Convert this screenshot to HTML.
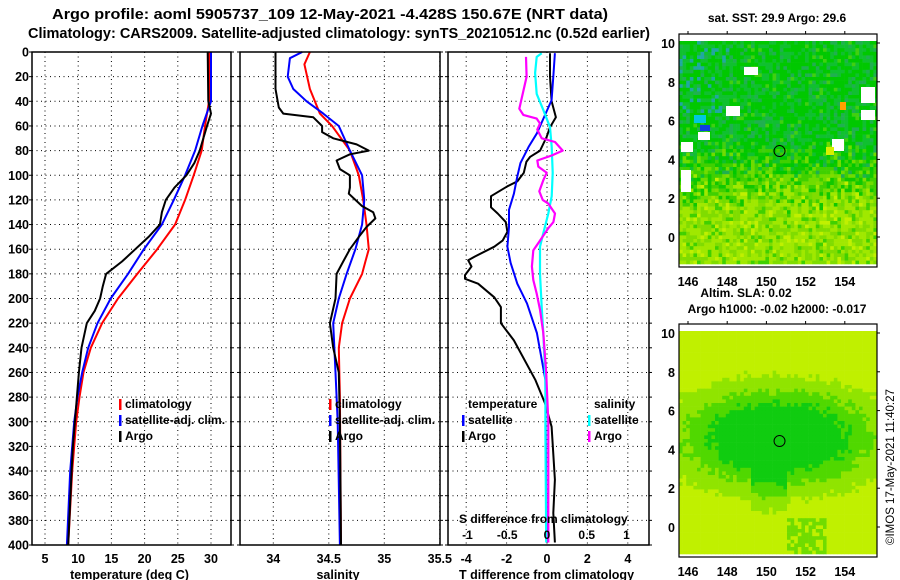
<!DOCTYPE html>
<html><head><meta charset="utf-8"><style>
html,body{margin:0;padding:0;background:#fff;}
svg{display:block;font-family:"Liberation Sans",sans-serif;font-weight:bold;}
</style></head><body>
<svg id="s" width="900" height="580" viewBox="0 0 900 580" xmlns="http://www.w3.org/2000/svg">
<text x="52" y="19" font-size="15" textLength="556" lengthAdjust="spacingAndGlyphs">Argo profile: aoml 5905737_109 12-May-2021 -4.428S 150.67E (NRT data)</text>
<text x="28" y="38" font-size="14.5" textLength="622" lengthAdjust="spacingAndGlyphs">Climatology: CARS2009. Satellite-adjusted climatology: synTS_20210512.nc (0.52d earlier)</text>
<text x="777" y="22" text-anchor="middle" font-size="12">sat. SST: 29.9 Argo: 29.6</text>
<text x="746" y="297" text-anchor="middle" font-size="12">Altim. SLA: 0.02</text>
<text x="777" y="313" text-anchor="middle" font-size="12">Argo h1000: -0.02 h2000: -0.017</text>
<text transform="translate(894,545) rotate(-90)" font-size="11.5" font-weight="normal">©IMOS 17-May-2021 11:40:27</text>
<g id="maps"></g>
<g id="panels"></g>
</svg>
<script>
// ---- temperature panel data ----
const climT_depth = [0,40,60,80,100,120,140,160,180,200,220,240,260,280,300,340,400];
const climT_val   = [29.7,29.7,29.1,28.6,27.4,26.1,24.6,21.9,18.9,16.0,13.6,11.9,10.8,10.2,9.7,9.1,8.5];
const satT_depth = [0,40,60,80,100,120,140,160,180,200,220,240,260,280,300,340,400];
const satT_val   = [30.0,30.0,28.7,27.6,26.1,24.4,22.6,19.9,17.5,14.9,12.9,11.5,10.6,9.9,9.4,8.8,8.3];
const argoT_depth = [0,40,50,60,80,90,100,110,120,130,140,150,160,170,180,190,200,210,220,240,260,280,300,320,340,400];
const argoT_val   = [29.5,29.6,30.0,29.4,28.3,27.5,26.3,24.5,23.2,22.6,22.3,20.6,18.6,16.6,14.2,13.7,13.3,12.5,11.3,10.5,10.1,9.8,9.5,9.2,9.0,8.5];
// ---- salinity panel data ----
const climS_depth = [0,10,30,50,60,80,100,120,140,160,170,180,200,220,240,280,400];
const climS_val   = [34.33,34.28,34.33,34.42,34.53,34.69,34.77,34.81,34.84,34.86,34.83,34.80,34.69,34.62,34.59,34.60,34.61];
const satS_depth = [0,5,20,30,40,50,60,80,100,120,140,160,180,200,220,260,300,400];
const satS_val   = [34.26,34.15,34.13,34.18,34.30,34.45,34.59,34.69,34.80,34.82,34.80,34.74,34.66,34.59,34.54,34.56,34.58,34.60];
const argoS_depth = [0,30,45,50,53,60,65,70,75,80,83,88,95,100,110,115,120,125,130,135,142,150,160,170,180,200,220,240,260,300,400];
const argoS_val   = [34.02,34.02,34.05,34.09,34.36,34.44,34.44,34.54,34.75,34.86,34.69,34.57,34.60,34.69,34.69,34.68,34.74,34.80,34.90,34.92,34.84,34.77,34.69,34.63,34.57,34.56,34.51,34.54,34.59,34.60,34.61];
// ---- difference panel data ----
const dTargo_depth = [1,20,40,53,61,69,80,85,89,98,105,109,117,126,131,138,146,153,158,166,169,174,181,184,188,199,207,220,234,266,285,304,347,374,398];
const dTargo_val   = [0.15,0.15,0.23,0.44,0.15,-0.02,-0.34,-0.83,-1.02,-1.15,-1.47,-1.96,-2.77,-2.77,-2.44,-2.04,-1.96,-2.2,-2.61,-3.58,-3.9,-3.74,-4.06,-4.06,-3.41,-2.61,-2.28,-2.28,-1.64,-0.58,-0.1,0.23,0.39,0.31,0.39];
const dTsat_depth = [1,20,39,54,66,77,90,101,115,128,142,158,171,188,204,228,266,339,398];
const dTsat_val   = [0.39,0.31,0.23,-0.18,-0.5,-0.91,-1.31,-1.47,-1.64,-1.88,-1.88,-1.96,-1.8,-1.47,-0.99,-0.5,-0.08,-0.05,-0.02];
const dSargo_depth = [4,20,34,46,51,54,58,63,70,73,80,84,88,93,98,104,113,120,123,131,138,143,153,161,174,185,196,209,228,260,300,398];
const dSargo_val   = [-0.264,-0.256,-0.306,-0.348,-0.298,-0.13,-0.088,-0.122,-0.067,0.10,0.197,0.059,-0.122,-0.109,-0.004,-0.047,-0.097,-0.054,0.016,0.10,0.08,0.016,-0.088,-0.172,-0.19,-0.172,-0.13,-0.088,-0.047,-0.01,0.016,0.016];
const dSsat_depth = [1,4,17,34,47,61,77,98,117,131,147,158,180,207,228,266,305,398];
const dSsat_val   = [-0.067,-0.13,-0.15,-0.13,-0.047,0.038,0.059,0.072,0.059,0.016,-0.047,-0.088,-0.088,-0.067,-0.047,-0.02,-0.02,-0.01];
// ---- tick labels ----
const depthTicks = [0,20,40,60,80,100,120,140,160,180,200,220,240,260,280,300,320,340,360,380,400];
const tempTicks = [5,10,15,20,25,30];
const salTicks = [34,34.5,35,35.5];
const tdiffTicks = [-4,-2,0,2,4];
const sdiffTicks = [-1,-0.5,0,0.5,1];
const sdiffLabels = ['-1','-0.5','0','0.5','1'];
const latTicks = [0,2,4,6,8,10];
const lonTicks = [146,148,150,152,154];

const NS='http://www.w3.org/2000/svg';
const P=document.getElementById('panels');
function mk(tag,attrs,parent){const e=document.createElementNS(NS,tag);for(const k in attrs)e.setAttribute(k,attrs[k]);(parent||P).appendChild(e);return e;}
const Y0=52,Y1=545;
const yD=d=>Y0+(d/400)*(Y1-Y0);
function panel(name,x0,x1,xs,ticks,labels,xlabel){
  const g=mk('g',{});
  
  
  ticks.forEach(t=>{const x=xs(t);
    const l=mk('line',{x1:x,x2:x,y1:Y0,y2:Y1,stroke:'#000','stroke-width':1,'stroke-dasharray':'1 3.5'},g);
    });
  depthTicks.forEach(d=>{const y=yD(d);
    const l=mk('line',{x1:x0,x2:x1,y1:y,y2:y,stroke:'#000','stroke-width':1,'stroke-dasharray':'1 3.5'},g);
    
    const tk=mk('line',{x1:x0-3,x2:x0,y1:y,y2:y,stroke:'#000'},g);
    
    const tk2=mk('line',{x1:x1,x2:x1+3,y1:y,y2:y,stroke:'#000'},g);
    });
  ticks.forEach((t,i)=>{const x=xs(t);
    const tx=mk('text',{x:x,y:563,'text-anchor':'middle','font-size':12.5},g);tx.textContent=labels[i];
    });
  const xl=mk('text',{x:(x0+x1)/2-2,y:579,'text-anchor':'middle','font-size':12.5},g);xl.textContent=xlabel;
  
  return g;
}
function frame(g,x0,x1){const r=mk('rect',{x:x0,y:Y0,width:x1-x0,height:Y1-Y0,fill:'none',stroke:'#000','stroke-width':1.5},g);
  }
function series(g,name,ds,vs,xs,color,w){
  const pts=ds.map((d,i)=>xs(vs[i]).toFixed(1)+','+yD(d).toFixed(1)).join(' ');
  const p=mk('polyline',{points:pts,fill:'none',stroke:color,'stroke-width':w,'stroke-linejoin':'round'},g);
  
}
function legend(g,x,y,color,label,name){
  if(color){const m=mk('rect',{x:x-6,y:y-9,width:2.5,height:11,fill:color},g);}
  const t=mk('text',{x:x,y:y,'font-size':12},g);t.textContent=label;
  
}
depthTicks.forEach(d=>{const t=mk('text',{x:29,y:yD(d)+4.5,'text-anchor':'end','font-size':12.5});t.textContent=d;
  });

const xT=t=>45+(t-5)*6.64;
const g1=panel('temperature-panel',32,231,xT,tempTicks,tempTicks.map(String),'temperature (deg C)');
series(g1,'temp-climatology-line',climT_depth,climT_val,xT,'#ff0000',2);
series(g1,'temp-satellite-line',satT_depth,satT_val,xT,'#0000ff',2);
series(g1,'temp-argo-line',argoT_depth,argoT_val,xT,'#000',2);
frame(g1,32,231);
legend(g1,125,408,'#ff0000','climatology','legend-climatology');
legend(g1,125,424,'#0000ff','satellite-adj. clim.','legend-satellite');
legend(g1,125,440,'#000','Argo','legend-argo');

const xS=s=>273.3+(s-34)*111;
const g2=panel('salinity-panel',240,440,xS,salTicks,salTicks.map(String),'salinity');
series(g2,'sal-climatology-line',climS_depth,climS_val,xS,'#ff0000',2);
series(g2,'sal-satellite-line',satS_depth,satS_val,xS,'#0000ff',2);
series(g2,'sal-argo-line',argoS_depth,argoS_val,xS,'#000',2);
frame(g2,240,440);
legend(g2,335,408,'#ff0000','climatology','legend-climatology');
legend(g2,335,424,'#0000ff','satellite-adj. clim.','legend-satellite');
legend(g2,335,440,'#000','Argo','legend-argo');

const xDT=t=>547+t*20.2;
const xDS=s=>547+s*79.5;
const g3=panel('difference-panel',448,649,xDT,tdiffTicks,tdiffTicks.map(String),'T difference from climatology');
series(g3,'tdiff-argo-line',dTargo_depth,dTargo_val,xDT,'#000',2);
series(g3,'tdiff-satellite-line',dTsat_depth,dTsat_val,xDT,'#0000ff',2);
series(g3,'sdiff-satellite-line',dSsat_depth,dSsat_val,xDS,'#00ffff',2.2);
series(g3,'sdiff-argo-line',dSargo_depth,dSargo_val,xDS,'#ff00ff',2.2);
frame(g3,448,649);
legend(g3,468,408,null,'temperature','legend-temperature-header');
legend(g3,468,424,'#0000ff','satellite','legend-t-satellite');
legend(g3,468,440,'#000','Argo','legend-t-argo');
legend(g3,594,408,null,'salinity','legend-salinity-header');
legend(g3,594,424,'#00ffff','satellite','legend-s-satellite');
legend(g3,594,440,'#ff00ff','Argo','legend-s-argo');
const st=mk('text',{x:459,y:523,'font-size':12},g3);st.textContent='S difference from climatology';

sdiffTicks.forEach((s,i)=>{const t=mk('text',{x:xDS(s),y:539,'text-anchor':'middle','font-size':12},g3);t.textContent=sdiffLabels[i];
  });

// ---- maps (texture) ----
const M=document.getElementById('maps');
function hash(a,b){const v=Math.sin(a*127.1+b*311.7)*43758.5453;return v-Math.floor(v);}
function drawMap(name,top,lat10y,sst){
  const g=mk('g',{},M);
  const x0=679,x1=877,y0=top+7,y1=top+230;
  const lonX=l=>688+(l-146)*19.6, latY=l=>lat10y+(10-l)*19.4;
  const cs=3.6;
  let i=0;
  for(let y=y0;y<y1;y+=cs){i++;let j=0;for(let x=x0;x<x1;x+=cs){j++;
    const lat=10-(y-lat10y)/19.4, lon=146+(x-688)/19.6;
    const n=hash(i,j+(sst?0:77)), n2=hash(j*3+1,i*7+2);
    let c;
    if(sst){
      const yl=(4.3-lat)/3.5+(n2-0.5)*0.6; // yellow fraction
      if(yl<0.1){c=n<0.5?'#00c800':(n<0.8?'#10c030':(n<0.93?'#20b050':'#40d010'));
        if(lat>6.5&&lon<148&&n>0.85)c='#20a8a0';}
      else if(yl<0.55){c=n<0.4?'#40d000':(n<0.75?'#70dc00':'#10c800');}
      else {c=n<0.45?'#a0e800':(n<0.8?'#80dc00':(n<0.9?'#c0f000':'#40d000'));}
    } else {
      const dx=(lon-150.5)/3.6, dy=(lat-4.7)/1.8;
      let r=Math.sqrt(dx*dx+dy*dy)+(n2-0.5)*0.25;
      if(lat<4&&Math.abs(lon-150)<0.9)r-=0.35;
      c=r<1?'#10cc10':(r<1.35?'#50d800':(r<1.8?'#90e400':'#c0f000'));
      if(lat<0.5&&lat>-1.3&&lon>151&&lon<153&&n>0.3)c='#70dc00';
    }
    const w=Math.min(cs,x1-x),h=Math.min(cs,y1-y);
    mk('rect',{x:x.toFixed(1),y:y.toFixed(1),width:w+0.3,height:h+0.3,fill:c},g);
  }}
  if(sst){
    [[681,142,12,10],[698,132,12,8],[744,67,14,8],[726,106,14,10],[681,170,10,22],[861,87,14,16],[832,139,12,12],[861,110,14,10]].forEach(r=>{
      const e=mk('rect',{x:r[0],y:r[1],width:r[2],height:r[3],fill:'#fff'},g);});
    [[694,115,12,8,'#00c8e0'],[700,125,10,6,'#1040e0'],[840,102,6,8,'#ffa000'],[826,147,8,8,'#d8f000']].forEach(r=>{
      const e=mk('rect',{x:r[0],y:r[1],width:r[2],height:r[3],fill:r[4]},g);});
  }
  const fr=mk('rect',{x:x0,y:top,width:x1-x0,height:233,fill:'none',stroke:'#000','stroke-width':1.2},g);
  
  const circ=mk('circle',{cx:lonX(150.67),cy:latY(4.43),r:5.5,fill:'none',stroke:'#000'},g);
  
  latTicks.forEach(l=>{const y=latY(l);
    const t=mk('text',{x:675,y:y+5,'text-anchor':'end','font-size':12.5},g);t.textContent=l;
    
    mk('line',{x1:x1,x2:x1+3,y1:y,y2:y,stroke:'#000'},g);});
  lonTicks.forEach(l=>{const x=lonX(l);
    const t=mk('text',{x:x,y:top+252,'text-anchor':'middle','font-size':12.5},g);t.textContent=l;
    
    mk('line',{x1:x,x2:x,y1:top-3,y2:top,stroke:'#000'},g);});
}
drawMap('sst-map',34,43,true);
drawMap('sla-map',324,333,false);
</script>
</body></html>
